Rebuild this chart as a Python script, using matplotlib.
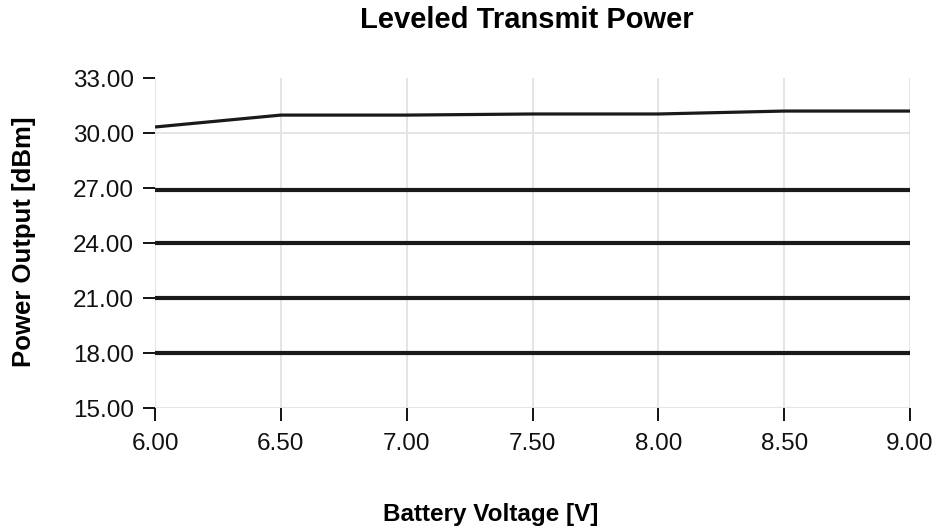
import matplotlib
matplotlib.use('Agg')
import matplotlib.pyplot as plt

# battery voltage steps
voltage = [6.0, 6.5, 7.0, 7.5, 8.0, 8.5, 9.0]

# leveled output power per setting [dBm]
p_max = [30.33, 30.98, 30.98, 31.04, 31.04, 31.2, 31.2]
p_27 = [26.9, 26.9, 26.9, 26.9, 26.9, 26.9, 26.9]
p_24 = [24.0, 24.0, 24.0, 24.0, 24.0, 24.0, 24.0]
p_21 = [21.0, 21.0, 21.0, 21.0, 21.0, 21.0, 21.0]
p_18 = [18.0, 18.0, 18.0, 18.0, 18.0, 18.0, 18.0]

x_ticks = [6.0, 6.5, 7.0, 7.5, 8.0, 8.5, 9.0]
y_ticks = [15, 18, 21, 24, 27, 30, 33]

plt.rcParams['font.family'] = ['Liberation Sans', 'DejaVu Sans']

fig = plt.figure(figsize=(9.43, 5.31), dpi=100)
ax = fig.add_axes([0.1644, 0.2316, 0.8006, 0.6214])

# grid
for xv in x_ticks:
    ax.axvline(xv, color='#e3e3e3', lw=1.3, zorder=0)
for yv in [15, 30]:
    ax.axhline(yv, color='#e3e3e3', lw=1.3, zorder=0)

ax.plot(voltage, p_max, color='#1a1a1a', lw=2.3, solid_capstyle='butt')
for series in [p_27, p_24, p_21, p_18]:
    ax.plot(voltage, series, color='#1a1a1a', lw=3.0, solid_capstyle='butt')

ax.set_xlim(6, 9)
ax.set_ylim(15, 33)
ax.set_xticks(x_ticks)
ax.set_xticklabels(['%.2f' % v for v in x_ticks])
ax.set_yticks(y_ticks)
ax.set_yticklabels(['%.2f' % v for v in y_ticks])

for s in ax.spines.values():
    s.set_visible(False)

ax.tick_params(axis='both', direction='out', length=9, width=1.3, color='black',
               labelsize=17.5, labelcolor='#111111')
ax.tick_params(axis='x', pad=9)
ax.tick_params(axis='y', pad=6)

fig.suptitle('Leveled Transmit Power', x=0.559, y=0.963, fontsize=21,
             fontweight='bold', va='center')
fig.text(0.52, 0.032, 'Battery Voltage [V]', ha='center', va='center',
         fontsize=17.5, fontweight='bold')
fig.text(0.025, 0.545, 'Power Output [dBm]', ha='center', va='center',
         rotation=90, fontsize=18.5, fontweight='bold')

fig.savefig('out.png', dpi=100)
